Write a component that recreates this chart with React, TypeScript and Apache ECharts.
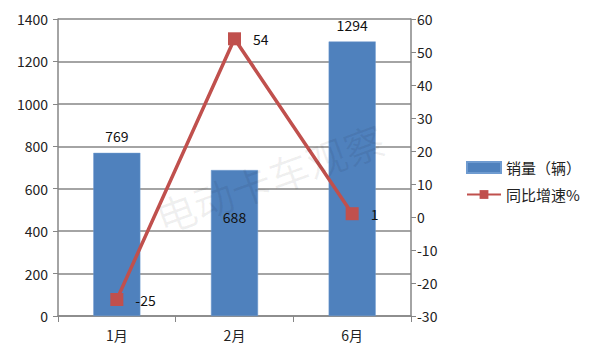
import React, { useEffect, useRef } from "react";
import * as echarts from "echarts";

const categories = ["1月", "2月", "6月"];
const sales = [769, 688, 1294];
const growth = [-25, 54, 1];
const salesName = "销量（辆）";
const growthName = "同比增速%";

export default function App() {
  const ref = useRef<HTMLDivElement>(null);
  useEffect(() => {
    const chart = echarts.init(ref.current!, null, { renderer: "svg" });
    const font = "'Noto Sans CJK SC', 'Liberation Sans', sans-serif";
    const axisColor = "#868686";
    chart.setOption({
      animation: false,
      textStyle: { fontFamily: font },
      graphic: [
        {
          type: "polyline",
          z: 200,
          silent: true,
          shape: { points: [[2, 2], [597, 2], [597, 357], [2, 357], [2, 2]] },
          style: { fill: null, stroke: "#8c8c8c", lineWidth: 2 },
        },
        {
          type: "text",
          x: 150,
          y: 200,
          rotation: (20 * Math.PI) / 180,
          style: {
            text: "电动卡车观察",
            fill: "rgba(0,0,0,0.06)",
            font: "40px 'Noto Sans CJK SC'",
          },
          z: 100,
          silent: true,
        },
      ],
      legend: {
        orient: "vertical",
        left: 461,
        top: 155,
        itemGap: 12,
        itemWidth: 34,
        itemHeight: 11,
        textStyle: { fontSize: 15, color: "#222", fontFamily: font },
        data: [
          { name: salesName, icon: "rect" },
          { name: growthName },
        ],
      },
      grid: { left: 58, right: 189, top: 19, bottom: 44 },
      xAxis: {
        type: "category",
        data: categories,
        axisLine: { lineStyle: { color: axisColor, width: 1.5 } },
        axisTick: { show: true, length: 6, lineStyle: { color: axisColor } },
        axisLabel: { fontSize: 14, color: "#222", margin: 12 },
      },
      yAxis: [
        {
          type: "value",
          min: 0,
          max: 1400,
          interval: 200,
          axisLine: { show: true, lineStyle: { color: axisColor, width: 1.5 } },
          axisTick: { show: true, inside: false, length: 5, lineStyle: { color: axisColor } },
          axisLabel: { fontSize: 14, color: "#222", margin: 10, formatter: (v: number) => String(v) },
          splitLine: { lineStyle: { color: axisColor, width: 1.5 } },
        },
        {
          type: "value",
          min: -30,
          max: 60,
          interval: 10,
          axisLine: { show: true, lineStyle: { color: axisColor, width: 1.5 } },
          axisTick: { show: true, length: 5, lineStyle: { color: axisColor } },
          axisLabel: { fontSize: 14, color: "#222", margin: 6, formatter: (v: number) => String(v) },
          splitLine: { show: false },
        },
      ],
      series: [
        {
          name: salesName,
          type: "bar",
          data: sales.map((v, i) =>
            i === 1
              ? { value: v, label: { position: "insideTop", distance: 40 } }
              : v
          ),
          barWidth: "40%",
          itemStyle: { color: "#4F81BD", borderColor: "#6f9bd0", borderWidth: 0.5 },
          label: {
            show: true,
            position: "top",
            distance: 10,
            fontSize: 14,
            color: "#111",
          },
        },
        {
          name: growthName,
          type: "line",
          yAxisIndex: 1,
          data: growth,
          symbol: "rect",
          symbolSize: 13,
          lineStyle: { color: "#C0504D", width: 3.5 },
          itemStyle: { color: "#C0504D" },
          label: {
            show: true,
            position: "right",
            distance: 12,
            fontSize: 14,
            color: "#111",
          },
          z: 5,
        },
      ],
    });
    return () => chart.dispose();
  }, []);
  return <div ref={ref} style={{ width: 600, height: 360, margin: -8, background: "#fff" }} />;
}
